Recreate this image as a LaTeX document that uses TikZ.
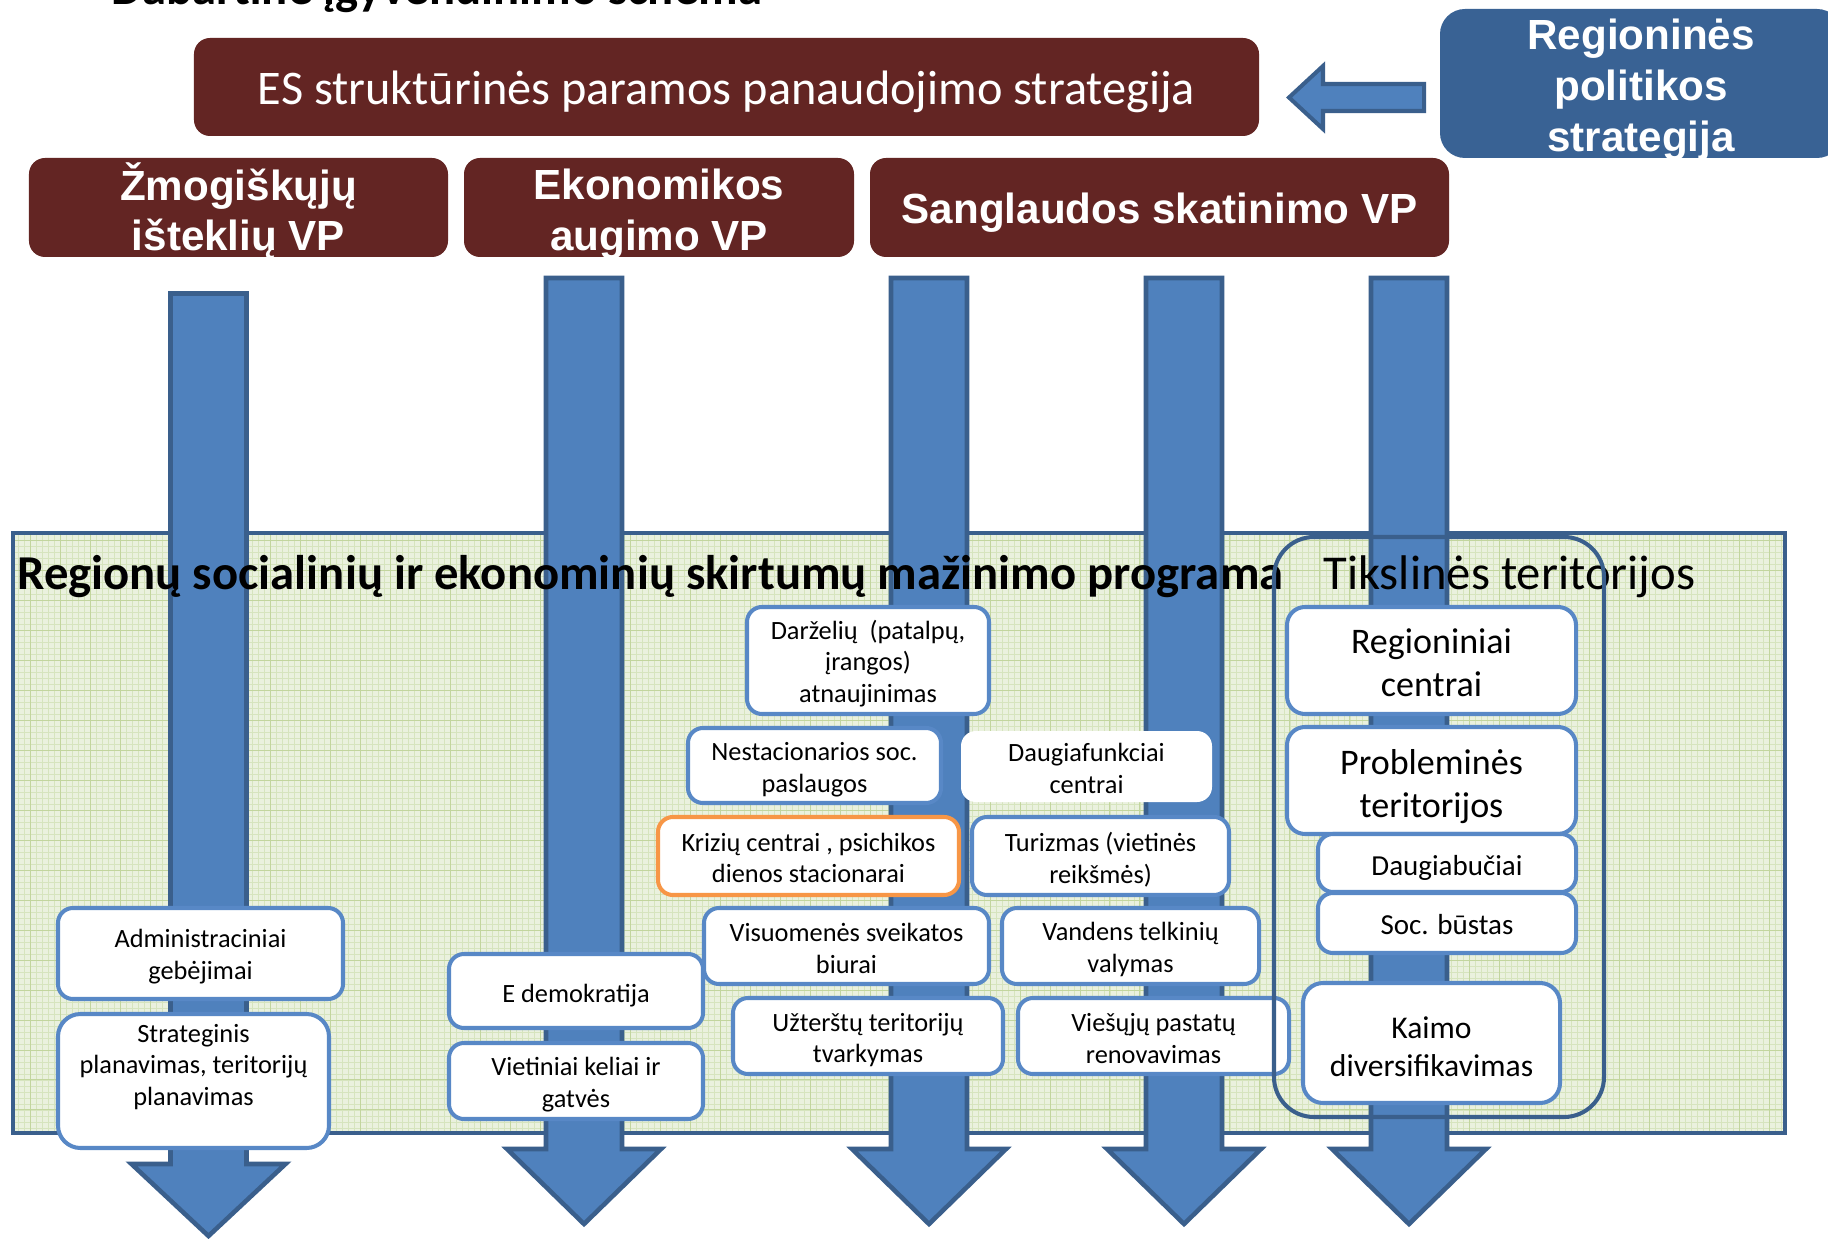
\documentclass[tikz,border=0pt]{standalone}
\usepackage{fontspec}
\setmainfont{Carlito}
\newfontfamily\arialf{Liberation Sans}
\definecolor{esred}{RGB}{99,37,35}
\definecolor{regblue}{RGB}{57,98,148}
\definecolor{arrfill}{RGB}{79,129,189}
\definecolor{arrline}{RGB}{58,95,140}
\definecolor{boxline}{RGB}{88,136,198}
\definecolor{orangeline}{RGB}{247,150,70}
\definecolor{panfill}{RGB}{234,241,222}
\definecolor{gridminor}{RGB}{214,228,190}
\definecolor{gridmajor}{RGB}{194,213,158}
\newcommand\fhdr{\arialf\bfseries\fontsize{24}{29}\selectfont}
\newcommand\fes{\fontsize{27.5}{33}\selectfont}
\newcommand\fsmall{\fontsize{15}{18}\selectfont}
\newcommand\fbig{\fontsize{20.5}{24.5}\selectfont}
\newcommand\fmid{\fontsize{16.5}{20}\selectfont}
\newcommand\fkaimo{\fontsize{18}{21.5}\selectfont}
\newcommand\fpan{\fontsize{27.7}{33}\selectfont}
% #1 box style, #2 text style, #3 name, #4..#7 x1 y1 x2 y2, #8 text
\newcommand\mybox[8]{%
  \pgfmathsetmacro\myBW{(#6-#4)*0.02}%
  \pgfmathsetmacro\myBH{(#7-#5)*0.02}%
  \node[#1, minimum width=\myBW cm, minimum height=\myBH cm] (#3) at ({(#4+#6)/2},{(#5+#7)/2}) {};%
  \node[#2] (#3t) at (#3.center) {#8};%
}
\newcommand\varr[5]{%
  \draw[arr] ({#2-38},#3) -- ({#2+38},#3) -- ({#2+38},#4) -- ({#2+77},#4) -- (#2,#5) -- ({#2-77},#4) -- ({#2-38},#4) -- cycle;
  \coordinate (#1) at (#2,#5);%
}
\tikzset{
  hdr/.style={fill=esred, draw=none, rounded corners=0.32cm, inner sep=0pt},
  htext/.style={text=white, font=\fhdr, align=center, inner sep=0pt},
  wbox/.style={fill=white, draw=boxline, line width=2.3pt, rounded corners=0.3cm, inner sep=0pt},
  wtext/.style={font=\fsmall, align=center, inner sep=0pt, text=black},
  arr/.style={fill=arrfill, draw=arrline, line width=2.6pt, line join=miter},
  framebox/.style={draw=arrline, line width=2.3pt, rounded corners=0.8cm, inner sep=0pt, fill=none},
}
\begin{document}
\begin{tikzpicture}[x=0.02cm,y=-0.02cm]
\useasboundingbox (0,0) rectangle (1828,1239);
\fill[white] (0,0) rectangle (1828,1239);
% title (cut off at the top edge, as in the reference)
\node[anchor=base west, inner sep=0pt, font=\fpan\bfseries] (title) at (111,5) {Dabartinė įgyvendinimo schema};
% header boxes
\mybox{hdr}{htext,font=\fes,yshift=-2.7pt}{es}{194}{38}{1259}{136}{ES struktūrinės paramos panaudojimo strategija}
\mybox{hdr,fill=regblue,rounded corners=0.5cm}{htext,yshift=-3.3pt}{reg}{1440}{9}{1842}{158}{Regioninės\\politikos\\strategija}
\mybox{hdr}{htext,yshift=-2pt}{vp1}{29}{158}{448}{257}{Žmogiškųjų\\išteklių VP}
\mybox{hdr}{htext,yshift=-4pt}{vp2}{464}{158}{854}{257}{Ekonomikos\\augimo VP}
\mybox{hdr}{htext,yshift=-2.7pt}{vp3}{870}{158}{1449}{257}{Sanglaudos skatinimo VP}
% block arrow from reg to es
\draw[arr, line width=2.3pt] (1424,84) -- (1323,84) -- (1323,66) -- (1289,97.5) -- (1323,129) -- (1323,111) -- (1424,111) -- cycle;
% panel
\node[fill=panfill, draw=none, minimum width=35.44cm, minimum height=12cm, inner sep=0pt] (pan) at (899,833) {};
\draw[gridminor, line width=0.2pt, step=0.12cm] (pan.south west) grid (pan.north east);
\draw[gridmajor, line width=0.35pt, step=0.6cm] (pan.south west) grid (pan.north east);
\draw[arrline, line width=2.3pt] (pan.north west) rectangle (pan.south east);
% down arrows
\varr{a1}{208.5}{293.5}{1164}{1236}
\varr{a2}{584}{278}{1149}{1224}
\varr{a3}{929}{278}{1149}{1224}
\varr{a4}{1184}{278}{1149}{1224}
\varr{a5}{1409}{278}{1149}{1224}
% panel texts
\node[anchor=base west, inner sep=0pt, font=\fpan\bfseries] (pantitle) at (17,589) {Regionų socialinių ir ekonominių skirtumų mažinimo programa};
\node[anchor=base west, inner sep=0pt, font=\fpan] (tikstitle) at (1323,589) {Tikslinės teritorijos};
% white boxes
\mybox{wbox}{wtext,yshift=-1.7pt}{darz}{747}{607}{989}{714}{Darželių~ (patalpų,\\įrangos)\\atnaujinimas}
\mybox{wbox}{wtext,yshift=-2.3pt}{nest}{688}{728}{941}{803}{Nestacionarios soc.\\paslaugos}
\mybox{wbox,draw=none}{wtext,yshift=-1pt}{daug}{961}{731}{1212}{802}{Daugiafunkciai\\centrai}
\mybox{wbox,draw=orangeline}{wtext,yshift=-1pt}{kriz}{658}{817}{959}{895}{Krizių centrai , psichikos\\dienos stacionarai}
\mybox{wbox}{wtext,yshift=-2pt}{turi}{972}{817}{1229}{895}{Turizmas (vietinės\\reikšmės)}
\mybox{wbox}{wtext,yshift=-1.3pt}{visu}{704}{908}{989}{984}{Visuomenės sveikatos\\biurai}
\mybox{wbox}{wtext,yshift=-2pt}{vand}{1002}{908}{1259}{984}{Vandens telkinių\\valymas}
\mybox{wbox}{wtext,yshift=-2.3pt}{uzte}{733}{998}{1003}{1074}{Užterštų teritorijų\\tvarkymas}
\mybox{wbox}{wtext,yshift=-1.3pt}{vies}{1018}{998}{1289}{1074}{Viešųjų pastatų\\renovavimas}
\mybox{wbox}{wtext,yshift=-1.7pt}{admi}{58}{908}{343}{999}{Administraciniai\\gebėjimai}
\mybox{wbox,rounded corners=0.45cm}{wtext,yshift=8pt}{stra}{58}{1014}{329}{1148}{Strateginis\\planavimas, teritorijų\\planavimas}
\mybox{wbox}{wtext,yshift=-2.7pt}{edem}{449}{954}{703}{1028}{E demokratija}
\mybox{wbox}{wtext,yshift=-2pt}{viet}{449}{1043}{703}{1119}{Vietiniai keliai ir\\gatvės}
\mybox{wbox,rounded corners=0.36cm}{wtext,font=\fbig,yshift=-1.3pt}{regc}{1287}{607}{1576}{714}{Regioniniai\\centrai}
\mybox{wbox,rounded corners=0.36cm}{wtext,font=\fbig,yshift=-3.3pt}{prob}{1287}{727}{1576}{834}{Probleminės\\teritorijos}
\mybox{wbox}{wtext,font=\fmid,yshift=-2.7pt}{daub}{1318}{834}{1576}{892}{Daugiabučiai}
\mybox{wbox}{wtext,font=\fmid,yshift=-0.7pt}{socb}{1318}{893}{1576}{953}{Soc. būstas}
\mybox{wbox,rounded corners=0.4cm}{wtext,font=\fkaimo,yshift=-2pt}{kaim}{1303}{983}{1560}{1103}{Kaimo\\diversifikavimas}
% target territories frame
\mybox{framebox}{wtext}{tiks}{1274}{537}{1604}{1117}{}
\end{tikzpicture}
\end{document}
